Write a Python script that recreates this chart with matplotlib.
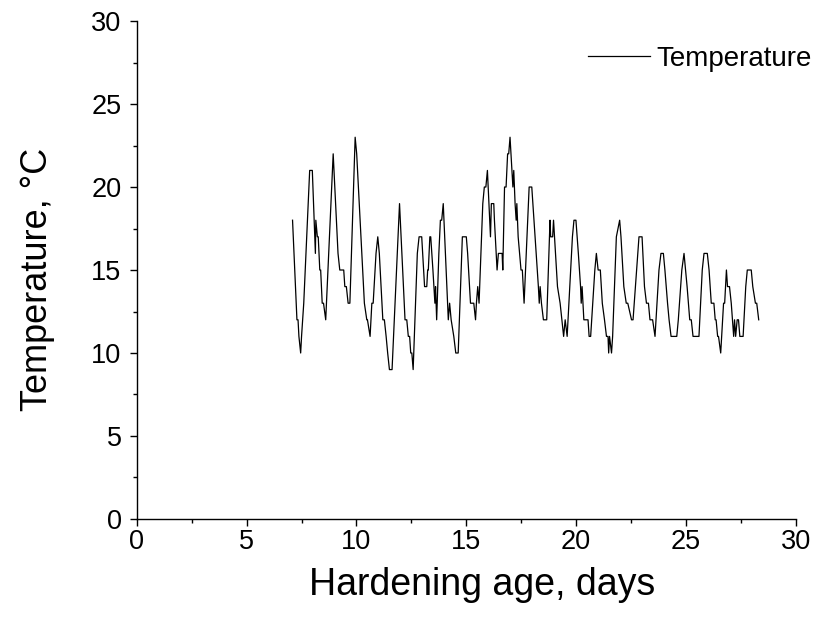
import matplotlib
matplotlib.use("Agg")
import matplotlib.pyplot as plt
from matplotlib.ticker import MultipleLocator

plt.rcParams["font.family"] = ["Liberation Sans", "DejaVu Sans"]

# hardening age (days) and temperature (deg C)
age_days = [
    7.09, 7.29, 7.34, 7.38, 7.46, 7.50, 7.55, 7.60, 7.87, 7.99,
    8.13, 8.15, 8.22, 8.26, 8.33, 8.37, 8.44, 8.50, 8.60, 8.94,
    9.16, 9.24, 9.42, 9.47, 9.54, 9.62, 9.70, 9.94, 10.01, 10.36,
    10.47, 10.50, 10.62, 10.70, 10.76, 10.89, 10.97, 11.04, 11.20, 11.27,
    11.35, 11.42, 11.50, 11.62, 11.96, 12.21, 12.29, 12.36, 12.42, 12.47,
    12.52, 12.58, 12.77, 12.85, 12.97, 13.10, 13.20, 13.24, 13.27, 13.34,
    13.38, 13.48, 13.57, 13.60, 13.65, 13.75, 13.82, 13.88, 13.95, 14.18,
    14.24, 14.31, 14.43, 14.52, 14.63, 14.82, 15.00, 15.06, 15.19, 15.34,
    15.42, 15.46, 15.52, 15.58, 15.75, 15.82, 15.89, 15.96, 16.10, 16.14,
    16.25, 16.28, 16.40, 16.46, 16.63, 16.66, 16.74, 16.81, 16.88, 16.93,
    16.99, 17.12, 17.16, 17.22, 17.27, 17.30, 17.36, 17.49, 17.55, 17.63,
    17.86, 17.98, 18.13, 18.28, 18.32, 18.36, 18.42, 18.51, 18.66, 18.81,
    18.84, 18.93, 18.97, 19.15, 19.27, 19.35, 19.43, 19.50, 19.59, 19.83,
    19.90, 19.99, 20.10, 20.20, 20.23, 20.27, 20.35, 20.54, 20.59, 20.66,
    20.85, 20.92, 21.00, 21.10, 21.19, 21.29, 21.38, 21.45, 21.48, 21.52,
    21.61, 21.66, 21.83, 21.98, 22.04, 22.17, 22.28, 22.35, 22.52, 22.59,
    22.70, 22.86, 23.00, 23.11, 23.20, 23.29, 23.36, 23.48, 23.59, 23.77,
    23.86, 23.97, 24.04, 24.16, 24.23, 24.32, 24.58, 24.65, 24.81, 24.91,
    24.98, 25.05, 25.17, 25.24, 25.32, 25.59, 25.74, 25.82, 25.97, 26.05,
    26.15, 26.27, 26.33, 26.37, 26.44, 26.48, 26.58, 26.71, 26.76, 26.84,
    26.89, 26.98, 27.06, 27.17, 27.21, 27.26, 27.33, 27.39, 27.45, 27.60,
    27.72, 27.79, 27.97, 28.04, 28.16, 28.22, 28.31,
]
temperature = [
    18, 12, 12, 11, 10, 11, 12, 13, 21, 21,
    16, 18, 17, 17, 15, 15, 13, 13, 12, 22,
    16, 15, 15, 14, 14, 13, 13, 23, 22, 13,
    12, 12, 11, 13, 13, 16, 17, 16, 12, 12,
    11, 10, 9, 9, 19, 12, 12, 11, 11, 10,
    10, 9, 16, 17, 17, 14, 14, 15, 15, 17,
    17, 15, 13, 14, 12, 16, 18, 18, 19, 12,
    13, 12, 11, 10, 10, 17, 17, 16, 13, 13,
    12, 13, 14, 13, 19, 20, 20, 21, 17, 19,
    19, 18, 15, 16, 16, 15, 20, 20, 22, 22,
    23, 20, 21, 19, 18, 19, 17, 15, 15, 13,
    20, 20, 17, 14, 13, 14, 13, 12, 12, 18,
    17, 17, 18, 14, 13, 12, 11, 12, 11, 17,
    18, 18, 16, 14, 13, 14, 12, 12, 11, 11,
    15, 16, 15, 15, 13, 12, 11, 11, 10, 11,
    10, 11, 17, 18, 17, 14, 13, 13, 12, 12,
    14, 17, 17, 14, 13, 13, 12, 12, 11, 15,
    16, 16, 15, 13, 12, 11, 11, 12, 15, 16,
    15, 14, 12, 12, 11, 11, 15, 16, 16, 15,
    13, 13, 12, 12, 11, 11, 10, 13, 13, 15,
    14, 14, 13, 11, 12, 11, 12, 12, 11, 11,
    14, 15, 15, 14, 13, 13, 12,
]

fig = plt.figure(figsize=(8.29, 6.19), dpi=100)
ax = fig.add_axes([0.165, 0.1616, 0.795, 0.8044])

ax.plot(age_days, temperature, color="black", linewidth=0.9, label="Temperature")

ax.set_xlim(0, 30)
ax.set_ylim(0, 30)
ax.xaxis.set_major_locator(MultipleLocator(5))
ax.xaxis.set_minor_locator(MultipleLocator(2.5))
ax.yaxis.set_major_locator(MultipleLocator(5))
ax.yaxis.set_minor_locator(MultipleLocator(2.5))

for side in ("top", "right"):
    ax.spines[side].set_visible(False)
for side in ("left", "bottom"):
    ax.spines[side].set_linewidth(1.0)

ax.tick_params(which="major", direction="out", length=5, width=1, labelsize=19.5)
ax.tick_params(which="minor", direction="out", length=3, width=1)
ax.tick_params(axis="x", which="major", pad=2)
ax.tick_params(axis="y", which="major", pad=6)

ax.set_xlabel("Hardening age, days", fontsize=27, labelpad=9)
ax.set_ylabel("Temperature, °C", fontsize=26, labelpad=26)
# the original labels sit a little off-centre
ax.xaxis.label.set_x(0.524)
ax.yaxis.label.set_y(0.482)

ax.legend(loc="upper right", bbox_to_anchor=(1.062, 1.0), frameon=False,
          fontsize=20, handlelength=2.25, handletextpad=0.22)

fig.savefig("out.png", dpi=100)
